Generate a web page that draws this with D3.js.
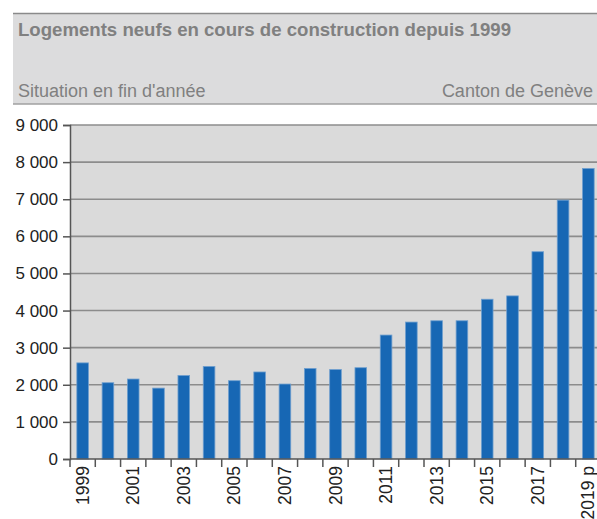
<!DOCTYPE html>
<html>
<head>
<meta charset="utf-8">
<script src="https://cdn.jsdelivr.net/npm/d3@7"></script>
<style>
  body { margin: 0; background: #fff; }
  svg { display: block; font-family: "Liberation Sans", Arial, sans-serif; }
</style>
</head>
<body>
<div id="chart"></div>
<script>
// data
const years = ["1999","2000","2001","2002","2003","2004","2005","2006","2007","2008","2009",
               "2010","2011","2012","2013","2014","2015","2016","2017","2018","2019 p"];
const logements = [2590, 2055, 2155, 1910, 2250, 2495, 2110, 2345, 2020, 2440, 2410,
                   2460, 3340, 3690, 3725, 3725, 4305, 4395, 5585, 6975, 7830];
const yTicks = [0, 1000, 2000, 3000, 4000, 5000, 6000, 7000, 8000, 9000];

const W = 597, H = 519;
const margin = {top: 125, left: 70, bottom: 60};
const plotH = 459 - margin.top;
const plotW = 531;

const svg = d3.select("#chart").append("svg")
    .attr("width", W).attr("height", H);

// header box
svg.append("rect").attr("x", 13).attr("y", 13).attr("width", W - 13).attr("height", 91)
    .attr("fill", "#dcdcdd");
svg.append("line").attr("x1", 13).attr("x2", W).attr("y1", 13.5).attr("y2", 13.5)
    .attr("stroke", "#8a8a8a").attr("stroke-width", 1.5);
svg.append("line").attr("x1", 13).attr("x2", W).attr("y1", 104).attr("y2", 104)
    .attr("stroke", "#a0a0a0").attr("stroke-width", 1.5);
svg.append("text").attr("x", 18).attr("y", 36)
    .attr("font-size", 18.5).attr("font-weight", "bold").attr("fill", "#808080")
    .attr("textLength", 493).attr("lengthAdjust", "spacingAndGlyphs")
    .text("Logements neufs en cours de construction depuis 1999");
svg.append("text").attr("x", 18).attr("y", 97)
    .attr("font-size", 18).attr("fill", "#808080")
    .text("Situation en fin d'année");
svg.append("text").attr("x", 593).attr("y", 97).attr("text-anchor", "end")
    .attr("font-size", 18).attr("fill", "#808080")
    .text("Canton de Genève");

const g = svg.append("g").attr("transform", `translate(${margin.left},${margin.top})`);

const x = d3.scaleBand().domain(years).range([0, plotW]).paddingInner(0.54).paddingOuter(0.27);
const y = d3.scaleLinear().domain([0, 9000]).range([plotH, 0]);

// plot bg
g.append("rect").attr("width", W - margin.left).attr("height", plotH).attr("fill", "#dadada");

// gridlines
g.selectAll(".grid").data(yTicks.filter(d => d > 0)).join("line")
    .attr("x1", 0).attr("x2", W - margin.left)
    .attr("y1", d => y(d)).attr("y2", d => y(d))
    .attr("stroke", "#8c8c8c").attr("stroke-width", 1.6);

// bars
g.selectAll(".bar").data(logements).join("rect")
    .attr("x", (d, i) => x(years[i]))
    .attr("y", d => y(d))
    .attr("width", x.bandwidth())
    .attr("height", d => plotH - y(d))
    .attr("fill", "#1767b4")
    .attr("stroke", "#6f9fcf").attr("stroke-width", 0.8);

// y axis
const yAxis = d3.axisLeft(y).tickValues(yTicks).tickSize(7).tickPadding(5);
g.append("g").call(yAxis)
    .call(a => a.select(".domain").attr("stroke", "#555").attr("stroke-width", 1.5))
    .call(a => a.selectAll(".tick line").attr("stroke", "#555").attr("stroke-width", 1.5))
    .call(a => a.selectAll("text").attr("font-size", 17).attr("fill", "#222")
        .attr("font-family", "'Liberation Sans', Arial, sans-serif")
        .text(d => d3.format(",")(d).replace(/,/g, " ")));

// x axis
const step = x.step();
const x0 = x(years[0]) - step * x.paddingOuter();
const xg = g.append("g").attr("transform", `translate(0,${plotH})`);
xg.append("line").attr("x1", 0).attr("x2", W - margin.left).attr("y1", 0).attr("y2", 0)
    .attr("stroke", "#555").attr("stroke-width", 1.5);
xg.selectAll(".xt").data(d3.range(years.length + 1)).join("line")
    .attr("x1", i => x0 + i * step)
    .attr("x2", i => x0 + i * step)
    .attr("y1", 0).attr("y2", 8)
    .attr("stroke", "#555").attr("stroke-width", 1.5);
xg.selectAll(".xl").data(years.filter((d, i) => i % 2 === 0)).join("text")
    .attr("transform", d => `translate(${x(d) + x.bandwidth() / 2 + 6},7) rotate(-90)`)
    .attr("text-anchor", "end")
    .attr("font-size", 17.5).attr("fill", "#222")
    .text(d => d);
</script>
</body>
</html>
